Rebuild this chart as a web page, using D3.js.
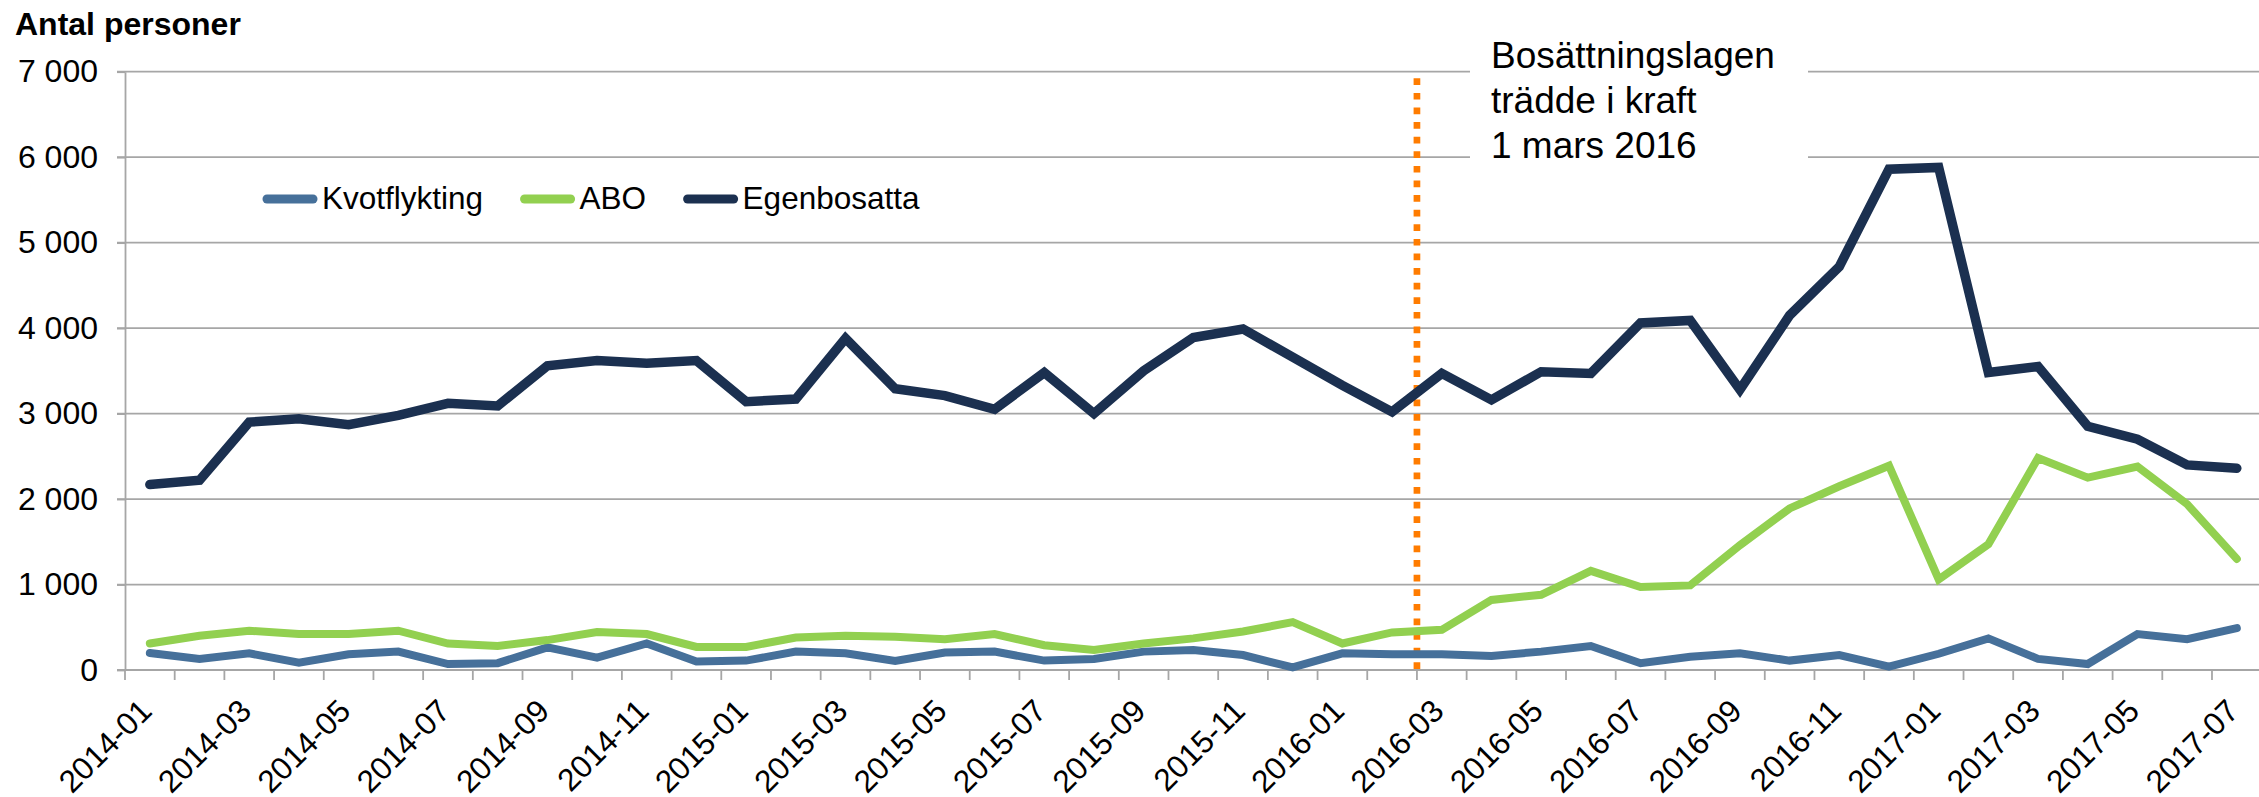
<!DOCTYPE html>
<html>
<head>
<meta charset="utf-8">
<script src="https://cdn.jsdelivr.net/npm/d3@7"></script>
<style>
  body { margin: 0; background: #fff; }
  text { font-family: "Liberation Sans", Arial, sans-serif; fill: #000; }
</style>
</head>
<body>
<svg width="2259" height="797"></svg>
<script>
var months = [
    "2014-01", "2014-02", "2014-03", "2014-04", "2014-05", "2014-06", "2014-07", "2014-08", "2014-09", "2014-10", "2014-11", "2014-12",
    "2015-01", "2015-02", "2015-03", "2015-04", "2015-05", "2015-06", "2015-07", "2015-08", "2015-09", "2015-10", "2015-11", "2015-12",
    "2016-01", "2016-02", "2016-03", "2016-04", "2016-05", "2016-06", "2016-07", "2016-08", "2016-09", "2016-10", "2016-11", "2016-12",
    "2017-01", "2017-02", "2017-03", "2017-04", "2017-05", "2017-06", "2017-07"
];

var kvotflykting = [200, 130, 195, 85, 185, 215, 70, 80, 265, 145, 310, 100,
    110, 215, 195, 105, 205, 215, 110, 130, 215, 235, 175, 30,
    195, 185, 185, 165, 215, 280, 80, 155, 195, 110, 175, 40,
    190, 370, 130, 70, 420, 360, 490];

var abo = [310, 400, 460, 420, 420, 460, 310, 280, 350, 445, 420, 270,
    270, 380, 400, 390, 360, 420, 290, 235, 310, 370, 450, 560,
    310, 440, 470, 820, 880, 1160, 970, 990, 1460, 1890, 2150, 2390,
    1060, 1470, 2480, 2250, 2380, 1940, 1300];

var egenbosatta = [2170, 2220, 2900, 2940, 2870, 2980, 3120, 3090, 3560, 3620, 3590, 3620,
    3140, 3170, 3880, 3290, 3210, 3050, 3480, 3000, 3500, 3890, 3990, 3660,
    3330, 3020, 3470, 3160, 3490, 3470, 4060, 4090, 3280, 4150, 4720, 5860,
    5880, 3480, 3550, 2850, 2700, 2400, 2360];

var seriesNames = ["Kvotflykting", "ABO", "Egenbosatta"];
var seriesColors = ["#46709A", "#92D050", "#1B3050"];
var seriesWidths = [8, 8, 9.5];
var yTicks = [0, 1000, 2000, 3000, 4000, 5000, 6000, 7000];
var xLabels = months.filter(function(d, i) { return i % 2 == 0; });
var lawMonth = "2016-03";
var noteLines = ["Bosättningslagen", "trädde i kraft", "1 mars 2016"];

var svg = d3.select("svg");
var plotLeft = 125, plotTop = 71.7, plotBottom = 670, step = 49.69;

var xScale = d3.scaleBand().domain(months).range([plotLeft, plotLeft + months.length * step]);
var yScale = d3.scaleLinear().domain([0, 7000]).range([plotBottom, plotTop]);

var locale = d3.formatLocale({ decimal: ",", thousands: " ", grouping: [3], currency: ["", " kr"] });
var fmt = locale.format(",d");

// gridlines
svg.append("g")
    .selectAll("line")
    .data(yTicks)
    .enter()
    .append("line")
    .attr("x1", plotLeft - 8)
    .attr("x2", xScale.range()[1])
    .attr("y1", function(d) { return yScale(d); })
    .attr("y2", function(d) { return yScale(d); })
    .attr("stroke", "#A6A6A6")
    .attr("stroke-width", 1.8);

// y axis
var yAxis = svg.append("g")
    .attr("transform", "translate(" + plotLeft + ",0)")
    .call(d3.axisLeft(yScale).tickValues(yTicks).tickFormat(fmt).tickSize(8).tickSizeOuter(0).tickPadding(19));
yAxis.select(".domain").attr("stroke", "#A6A6A6").attr("stroke-width", 1.8);
yAxis.selectAll(".tick line").attr("stroke", "#A6A6A6").attr("stroke-width", 1.8);
yAxis.selectAll("text")
    .style("font-size", "32px")
    .style("font-family", "'Liberation Sans', Arial, sans-serif")
    .attr("fill", "#000");

// x ticks at category boundaries
svg.append("g")
    .selectAll("line")
    .data(months.concat(["end"]))
    .enter()
    .append("line")
    .attr("x1", function(d) { return d == "end" ? xScale.range()[1] : xScale(d); })
    .attr("x2", function(d) { return d == "end" ? xScale.range()[1] : xScale(d); })
    .attr("y1", plotBottom)
    .attr("y2", plotBottom + 10)
    .attr("stroke", "#A6A6A6")
    .attr("stroke-width", 1.8);

// x labels
var xAxis = svg.append("g")
    .attr("transform", "translate(0," + plotBottom + ")")
    .call(d3.axisBottom(xScale).tickValues(xLabels).tickSize(0));
xAxis.select(".domain").remove();
xAxis.selectAll("text")
    .attr("x", 0)
    .attr("y", 0)
    .attr("dy", "0.35em")
    .attr("transform", "translate(-4,35) rotate(-45)")
    .style("text-anchor", "end")
    .style("font-size", "31.5px")
    .style("font-family", "'Liberation Sans', Arial, sans-serif")
    .attr("fill", "#000");

// annotation box
svg.append("rect")
    .attr("x", 1470)
    .attr("y", 40)
    .attr("width", 338)
    .attr("height", 135)
    .attr("fill", "#fff");

svg.append("g")
    .selectAll("text")
    .data(noteLines)
    .enter()
    .append("text")
    .attr("x", 1491)
    .attr("y", function(d, i) { return 68.3 + i * 44.7; })
    .style("font-size", "37px")
    .text(function(d) { return d; });

// law line
svg.append("line")
    .attr("x1", xScale(lawMonth))
    .attr("x2", xScale(lawMonth))
    .attr("y1", yScale(7000) + 6.6)
    .attr("y2", plotBottom + 2)
    .attr("stroke", "#FF7C00")
    .attr("stroke-width", 6.7)
    .attr("stroke-dasharray", "6.7 7.9");

// series lines
var series = [kvotflykting, abo, egenbosatta];
var line = d3.line()
    .x(function(d, i) { return xScale(months[i]) + xScale.bandwidth() / 2; })
    .y(function(d) { return yScale(d); });

svg.append("g")
    .selectAll("path")
    .data(series)
    .enter()
    .append("path")
    .attr("d", function(d) { return line(d); })
    .attr("fill", "none")
    .attr("stroke", function(d, i) { return seriesColors[i]; })
    .attr("stroke-width", function(d, i) { return seriesWidths[i]; })
    .attr("stroke-linecap", "round")
    .attr("stroke-linejoin", "miter");

// legend
var legend = svg.append("g");
var lx = 267;
seriesNames.forEach(function(name, i) {
    legend.append("line")
        .attr("x1", lx)
        .attr("x2", lx + 46)
        .attr("y1", 199)
        .attr("y2", 199)
        .attr("stroke", seriesColors[i])
        .attr("stroke-width", 9)
        .attr("stroke-linecap", "round");
    var t = legend.append("text")
        .attr("x", lx + 55)
        .attr("y", 208.5)
        .style("font-size", "31.5px")
        .text(name);
    lx = lx + 55 + t.node().getComputedTextLength() + 41.5;
});

// title
svg.append("text")
    .attr("x", 15)
    .attr("y", 35)
    .style("font-size", "32px")
    .style("font-weight", "bold")
    .text("Antal personer");
</script>
</body>
</html>
